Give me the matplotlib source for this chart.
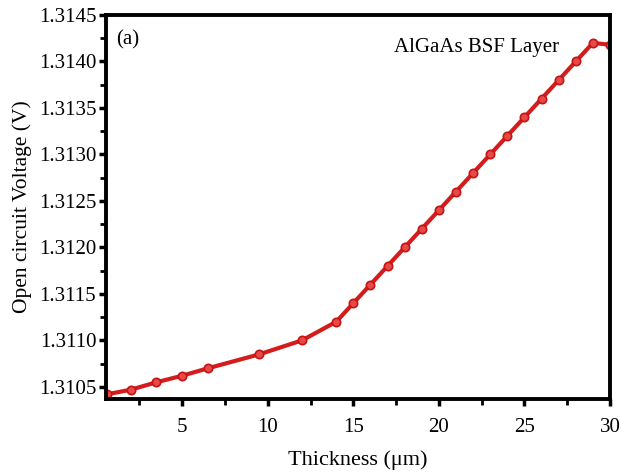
import matplotlib
matplotlib.use("Agg")
import matplotlib.pyplot as plt
from matplotlib.ticker import MultipleLocator

plt.rcParams['font.family'] = ['Liberation Serif', 'DejaVu Serif']

# thickness (um) and open circuit voltage (V)
thickness = [0.6, 2, 3.5, 5, 6.5, 9.5, 12, 14, 15, 16, 17, 18, 19, 20,
             21, 22, 23, 24, 25, 26, 27, 28, 29, 30]
voc = [1.31042, 1.31047, 1.31055, 1.31062, 1.31070, 1.31085, 1.31100,
       1.31120, 1.31140, 1.31160, 1.31180, 1.31200, 1.31220, 1.31240,
       1.31260, 1.31280, 1.31300, 1.31320, 1.31340, 1.31360, 1.31380,
       1.31400, 1.31420, 1.31418]
yticks = [1.3105, 1.3110, 1.3115, 1.3120, 1.3125, 1.3130, 1.3135, 1.3140, 1.3145]

fig = plt.figure(figsize=(6.21, 4.72), dpi=100)
ax = fig.add_axes([0.1707, 0.1547, 0.8116, 0.8135])

ax.plot(thickness, voc, '-o', color='#d41c1c', lw=3, ms=6,
        mfc='#e84848', mec='#c41414', mew=1.2)

ax.set_xlim(0.55, 30)
ax.set_ylim(1.31037, 1.3145)
ax.xaxis.set_major_locator(MultipleLocator(5))
ax.xaxis.set_minor_locator(MultipleLocator(2.5))
ax.set_yticks(yticks)
ax.set_yticklabels([f"{v:.4f}" for v in yticks])
ax.yaxis.set_minor_locator(MultipleLocator(0.00025))

for s in ax.spines.values():
    s.set_linewidth(2.8)
ax.tick_params(which='major', direction='out', length=5, width=2.5,
               labelsize=15)
ax.tick_params(axis='x', which='major', pad=9)
ax.tick_params(axis='y', which='major', pad=2)
ax.tick_params(which='minor', direction='out', length=4, width=2)

ax.set_xlabel("Thickness (\u03bcm)", fontsize=16, labelpad=9)
ax.set_ylabel("Open circuit Voltage (V)", fontsize=15.5, labelpad=5)

ax.text(0.02, 0.96, "(a)", transform=ax.transAxes, fontsize=15,
        va='top', ha='left')
ax.text(0.9, 0.915, "AlGaAs BSF Layer", transform=ax.transAxes,
        fontsize=15, va='center', ha='right')

fig.savefig("out.png", dpi=100)
